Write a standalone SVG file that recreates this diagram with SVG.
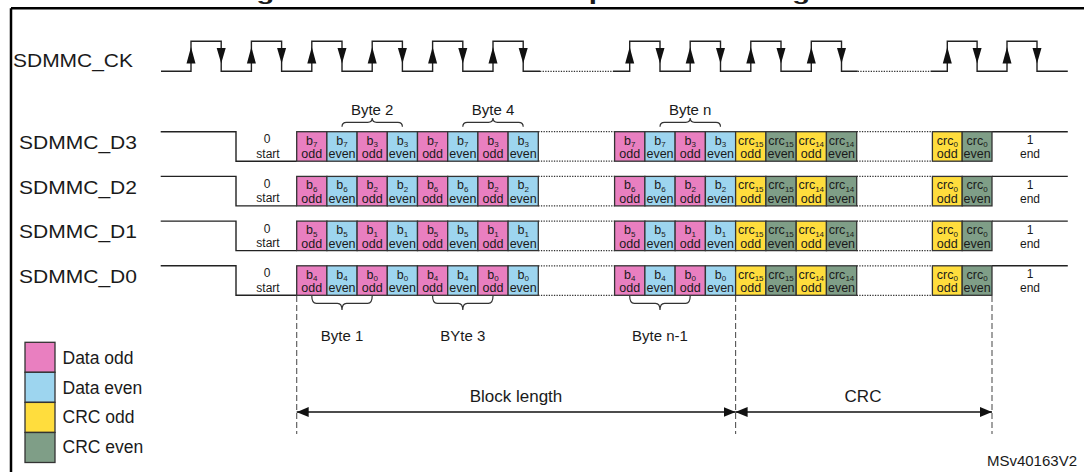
<svg xmlns="http://www.w3.org/2000/svg" xmlns:xlink="http://www.w3.org/1999/xlink" width="1084" height="472" viewBox="0 0 1084 472">
<defs>
<style>
text{font-family:"Liberation Sans",Arial,sans-serif;fill:#1a1a1a}
.po{fill:#E97FC0;stroke:#333;stroke-width:1.3}
.bl{fill:#9DD5EF;stroke:#333;stroke-width:1.3}
.ye{fill:#FFDD3D;stroke:#333;stroke-width:1.3}
.gr{fill:#7F9E87;stroke:#333;stroke-width:1.3}
.ct{font-size:12.5px;text-anchor:middle}
.s{font-size:8px}
.lbl{font-size:19px}
.bt{font-size:15px;text-anchor:middle}
.sm{font-size:12px;text-anchor:middle}
.wire{fill:none;stroke:#222;stroke-width:1.4}
.dot{fill:none;stroke:#333;stroke-width:1.2;stroke-dasharray:1.3 1.3}
.brace{fill:none;stroke:#333;stroke-width:1.2}
.dash{fill:none;stroke:#555;stroke-width:1.1;stroke-dasharray:6 3}
</style>
<polygon id="up" points="-4.5,0 4.5,0 0,-16.5" fill="#111"/>
<polygon id="dn" points="-4.5,0 4.5,0 0,15.5" fill="#111"/>
<marker id="ah" viewBox="0 0 12 10" refX="12" refY="5" markerWidth="12" markerHeight="10" markerUnits="userSpaceOnUse" orient="auto-start-reverse"><path d="M0,0 L12,5 L0,10 z" fill="#111"/></marker>
</defs>

<g id="frame">
<text x="520" y="0.3" font-size="19" font-weight="bold" text-anchor="middle" textLength="580" lengthAdjust="spacingAndGlyphs">Figure 8. DDR mode data packet clocking</text>
<path d="M11,8.3 H1084 M11,8.3 V472" fill="none" stroke="#000" stroke-width="2.5"/>
</g>

<g id="clock">
<text class="lbl" x="13" y="67" textLength="120" lengthAdjust="spacingAndGlyphs">SDMMC_CK</text>
<path class="wire" d="M161,71.3 H191 V41.3 H221.2 V71.3 H251.4 V41.3 H281.6 V71.3 H311.8 V41.3 H342 V71.3 H372.2 V41.3 H402.4 V71.3 H432.6 V41.3 H462.8 V71.3 H493 V41.3 H523.2 V71.3 H540"/>
<path class="dot" d="M540,71.3 H613"/>
<path class="wire" d="M613,71.3 H629.7 V41.3 H660 V71.3 H690.2 V41.3 H720.5 V71.3 H750.8 V41.3 H781 V71.3 H811.3 V41.3 H841.5 V71.3 H857.7"/>
<path class="dot" d="M857.7,71.3 H930.6"/>
<path class="wire" d="M930.6,71.3 H947.3 V41.3 H977.1 V71.3 H1007 V41.3 H1037 V71.3 H1067.8"/>
<use xlink:href="#up" x="191" y="63.5"/><use xlink:href="#dn" x="221.2" y="48"/>
<use xlink:href="#up" x="251.4" y="63.5"/><use xlink:href="#dn" x="281.6" y="48"/>
<use xlink:href="#up" x="311.8" y="63.5"/><use xlink:href="#dn" x="342" y="48"/>
<use xlink:href="#up" x="372.2" y="63.5"/><use xlink:href="#dn" x="402.4" y="48"/>
<use xlink:href="#up" x="432.6" y="63.5"/><use xlink:href="#dn" x="462.8" y="48"/>
<use xlink:href="#up" x="493" y="63.5"/><use xlink:href="#dn" x="523.2" y="48"/>
<use xlink:href="#up" x="629.7" y="63.5"/><use xlink:href="#dn" x="660" y="48"/>
<use xlink:href="#up" x="690.2" y="63.5"/><use xlink:href="#dn" x="720.5" y="48"/>
<use xlink:href="#up" x="750.8" y="63.5"/><use xlink:href="#dn" x="781" y="48"/>
<use xlink:href="#up" x="811.3" y="63.5"/><use xlink:href="#dn" x="841.5" y="48"/>
<use xlink:href="#up" x="947.3" y="63.5"/><use xlink:href="#dn" x="977.1" y="48"/>
<use xlink:href="#up" x="1007" y="63.5"/><use xlink:href="#dn" x="1037" y="48"/>
</g>

<g id="d3" transform="translate(0,131.7)">
<text class="lbl" x="19" y="17.3" textLength="118" lengthAdjust="spacingAndGlyphs">SDMMC_D3</text>
<path class="wire" d="M160.7,0 H236 V29.5 H296.7 M992,0 H1067.8"/>
<path class="dot" d="M538.3,0 H614.6 M538.3,29.5 H614.6 M856.7,0 H932.4 M856.7,29.5 H932.4"/>
<text class="sm" x="267" y="11.5">0</text><text class="sm" x="268" y="26">start</text>
<text class="sm" x="1030" y="12.5">1</text><text class="sm" x="1030" y="26.5">end</text>
<rect class="po" x="296.7" width="30.2" height="29.5"/><text class="ct" x="311.8" y="13">b<tspan class="s" dy="2.5">7</tspan></text><text class="ct" x="311.8" y="26.5">odd</text>
<rect class="bl" x="326.9" width="30.2" height="29.5"/><text class="ct" x="342" y="13">b<tspan class="s" dy="2.5">7</tspan></text><text class="ct" x="342" y="26.5">even</text>
<rect class="po" x="357.1" width="30.2" height="29.5"/><text class="ct" x="372.2" y="13">b<tspan class="s" dy="2.5">3</tspan></text><text class="ct" x="372.2" y="26.5">odd</text>
<rect class="bl" x="387.3" width="30.2" height="29.5"/><text class="ct" x="402.4" y="13">b<tspan class="s" dy="2.5">3</tspan></text><text class="ct" x="402.4" y="26.5">even</text>
<rect class="po" x="417.5" width="30.2" height="29.5"/><text class="ct" x="432.6" y="13">b<tspan class="s" dy="2.5">7</tspan></text><text class="ct" x="432.6" y="26.5">odd</text>
<rect class="bl" x="447.7" width="30.2" height="29.5"/><text class="ct" x="462.8" y="13">b<tspan class="s" dy="2.5">7</tspan></text><text class="ct" x="462.8" y="26.5">even</text>
<rect class="po" x="477.9" width="30.2" height="29.5"/><text class="ct" x="493" y="13">b<tspan class="s" dy="2.5">3</tspan></text><text class="ct" x="493" y="26.5">odd</text>
<rect class="bl" x="508.1" width="30.2" height="29.5"/><text class="ct" x="523.2" y="13">b<tspan class="s" dy="2.5">3</tspan></text><text class="ct" x="523.2" y="26.5">even</text>
<rect class="po" x="614.6" width="30.3" height="29.5"/><text class="ct" x="629.7" y="13">b<tspan class="s" dy="2.5">7</tspan></text><text class="ct" x="629.7" y="26.5">odd</text>
<rect class="bl" x="644.9" width="30.3" height="29.5"/><text class="ct" x="660" y="13">b<tspan class="s" dy="2.5">7</tspan></text><text class="ct" x="660" y="26.5">even</text>
<rect class="po" x="675.1" width="30.3" height="29.5"/><text class="ct" x="690.2" y="13">b<tspan class="s" dy="2.5">3</tspan></text><text class="ct" x="690.2" y="26.5">odd</text>
<rect class="bl" x="705.4" width="30.3" height="29.5"/><text class="ct" x="720.5" y="13">b<tspan class="s" dy="2.5">3</tspan></text><text class="ct" x="720.5" y="26.5">even</text>
<rect class="ye" x="735.6" width="30.3" height="29.5"/><text class="ct" x="750.8" y="13">crc<tspan class="s" dy="2.5">15</tspan></text><text class="ct" x="750.8" y="26.5">odd</text>
<rect class="gr" x="765.9" width="30.3" height="29.5"/><text class="ct" x="781" y="13">crc<tspan class="s" dy="2.5">15</tspan></text><text class="ct" x="781" y="26.5">even</text>
<rect class="ye" x="796.2" width="30.3" height="29.5"/><text class="ct" x="811.3" y="13">crc<tspan class="s" dy="2.5">14</tspan></text><text class="ct" x="811.3" y="26.5">odd</text>
<rect class="gr" x="826.4" width="30.3" height="29.5"/><text class="ct" x="841.5" y="13">crc<tspan class="s" dy="2.5">14</tspan></text><text class="ct" x="841.5" y="26.5">even</text>
<rect class="ye" x="932.4" width="29.8" height="29.5"/><text class="ct" x="947.3" y="13">crc<tspan class="s" dy="2.5">0</tspan></text><text class="ct" x="947.3" y="26.5">odd</text>
<rect class="gr" x="962.2" width="29.8" height="29.5"/><text class="ct" x="977.1" y="13">crc<tspan class="s" dy="2.5">0</tspan></text><text class="ct" x="977.1" y="26.5">even</text>
</g>

<g id="d2" transform="translate(0,176.4)">
<text class="lbl" x="19" y="17.3" textLength="118" lengthAdjust="spacingAndGlyphs">SDMMC_D2</text>
<path class="wire" d="M160.7,0 H236 V29.5 H296.7 M992,0 H1067.8"/>
<path class="dot" d="M538.3,0 H614.6 M538.3,29.5 H614.6 M856.7,0 H932.4 M856.7,29.5 H932.4"/>
<text class="sm" x="267" y="11.5">0</text><text class="sm" x="268" y="26">start</text>
<text class="sm" x="1030" y="12.5">1</text><text class="sm" x="1030" y="26.5">end</text>
<rect class="po" x="296.7" width="30.2" height="29.5"/><text class="ct" x="311.8" y="13">b<tspan class="s" dy="2.5">6</tspan></text><text class="ct" x="311.8" y="26.5">odd</text>
<rect class="bl" x="326.9" width="30.2" height="29.5"/><text class="ct" x="342" y="13">b<tspan class="s" dy="2.5">6</tspan></text><text class="ct" x="342" y="26.5">even</text>
<rect class="po" x="357.1" width="30.2" height="29.5"/><text class="ct" x="372.2" y="13">b<tspan class="s" dy="2.5">2</tspan></text><text class="ct" x="372.2" y="26.5">odd</text>
<rect class="bl" x="387.3" width="30.2" height="29.5"/><text class="ct" x="402.4" y="13">b<tspan class="s" dy="2.5">2</tspan></text><text class="ct" x="402.4" y="26.5">even</text>
<rect class="po" x="417.5" width="30.2" height="29.5"/><text class="ct" x="432.6" y="13">b<tspan class="s" dy="2.5">6</tspan></text><text class="ct" x="432.6" y="26.5">odd</text>
<rect class="bl" x="447.7" width="30.2" height="29.5"/><text class="ct" x="462.8" y="13">b<tspan class="s" dy="2.5">6</tspan></text><text class="ct" x="462.8" y="26.5">even</text>
<rect class="po" x="477.9" width="30.2" height="29.5"/><text class="ct" x="493" y="13">b<tspan class="s" dy="2.5">2</tspan></text><text class="ct" x="493" y="26.5">odd</text>
<rect class="bl" x="508.1" width="30.2" height="29.5"/><text class="ct" x="523.2" y="13">b<tspan class="s" dy="2.5">2</tspan></text><text class="ct" x="523.2" y="26.5">even</text>
<rect class="po" x="614.6" width="30.3" height="29.5"/><text class="ct" x="629.7" y="13">b<tspan class="s" dy="2.5">6</tspan></text><text class="ct" x="629.7" y="26.5">odd</text>
<rect class="bl" x="644.9" width="30.3" height="29.5"/><text class="ct" x="660" y="13">b<tspan class="s" dy="2.5">6</tspan></text><text class="ct" x="660" y="26.5">even</text>
<rect class="po" x="675.1" width="30.3" height="29.5"/><text class="ct" x="690.2" y="13">b<tspan class="s" dy="2.5">2</tspan></text><text class="ct" x="690.2" y="26.5">odd</text>
<rect class="bl" x="705.4" width="30.3" height="29.5"/><text class="ct" x="720.5" y="13">b<tspan class="s" dy="2.5">2</tspan></text><text class="ct" x="720.5" y="26.5">even</text>
<rect class="ye" x="735.6" width="30.3" height="29.5"/><text class="ct" x="750.8" y="13">crc<tspan class="s" dy="2.5">15</tspan></text><text class="ct" x="750.8" y="26.5">odd</text>
<rect class="gr" x="765.9" width="30.3" height="29.5"/><text class="ct" x="781" y="13">crc<tspan class="s" dy="2.5">15</tspan></text><text class="ct" x="781" y="26.5">even</text>
<rect class="ye" x="796.2" width="30.3" height="29.5"/><text class="ct" x="811.3" y="13">crc<tspan class="s" dy="2.5">14</tspan></text><text class="ct" x="811.3" y="26.5">odd</text>
<rect class="gr" x="826.4" width="30.3" height="29.5"/><text class="ct" x="841.5" y="13">crc<tspan class="s" dy="2.5">14</tspan></text><text class="ct" x="841.5" y="26.5">even</text>
<rect class="ye" x="932.4" width="29.8" height="29.5"/><text class="ct" x="947.3" y="13">crc<tspan class="s" dy="2.5">0</tspan></text><text class="ct" x="947.3" y="26.5">odd</text>
<rect class="gr" x="962.2" width="29.8" height="29.5"/><text class="ct" x="977.1" y="13">crc<tspan class="s" dy="2.5">0</tspan></text><text class="ct" x="977.1" y="26.5">even</text>
</g>

<g id="d1" transform="translate(0,221.1)">
<text class="lbl" x="19" y="17.3" textLength="118" lengthAdjust="spacingAndGlyphs">SDMMC_D1</text>
<path class="wire" d="M160.7,0 H236 V29.5 H296.7 M992,0 H1067.8"/>
<path class="dot" d="M538.3,0 H614.6 M538.3,29.5 H614.6 M856.7,0 H932.4 M856.7,29.5 H932.4"/>
<text class="sm" x="267" y="11.5">0</text><text class="sm" x="268" y="26">start</text>
<text class="sm" x="1030" y="12.5">1</text><text class="sm" x="1030" y="26.5">end</text>
<rect class="po" x="296.7" width="30.2" height="29.5"/><text class="ct" x="311.8" y="13">b<tspan class="s" dy="2.5">5</tspan></text><text class="ct" x="311.8" y="26.5">odd</text>
<rect class="bl" x="326.9" width="30.2" height="29.5"/><text class="ct" x="342" y="13">b<tspan class="s" dy="2.5">5</tspan></text><text class="ct" x="342" y="26.5">even</text>
<rect class="po" x="357.1" width="30.2" height="29.5"/><text class="ct" x="372.2" y="13">b<tspan class="s" dy="2.5">1</tspan></text><text class="ct" x="372.2" y="26.5">odd</text>
<rect class="bl" x="387.3" width="30.2" height="29.5"/><text class="ct" x="402.4" y="13">b<tspan class="s" dy="2.5">1</tspan></text><text class="ct" x="402.4" y="26.5">even</text>
<rect class="po" x="417.5" width="30.2" height="29.5"/><text class="ct" x="432.6" y="13">b<tspan class="s" dy="2.5">5</tspan></text><text class="ct" x="432.6" y="26.5">odd</text>
<rect class="bl" x="447.7" width="30.2" height="29.5"/><text class="ct" x="462.8" y="13">b<tspan class="s" dy="2.5">5</tspan></text><text class="ct" x="462.8" y="26.5">even</text>
<rect class="po" x="477.9" width="30.2" height="29.5"/><text class="ct" x="493" y="13">b<tspan class="s" dy="2.5">1</tspan></text><text class="ct" x="493" y="26.5">odd</text>
<rect class="bl" x="508.1" width="30.2" height="29.5"/><text class="ct" x="523.2" y="13">b<tspan class="s" dy="2.5">1</tspan></text><text class="ct" x="523.2" y="26.5">even</text>
<rect class="po" x="614.6" width="30.3" height="29.5"/><text class="ct" x="629.7" y="13">b<tspan class="s" dy="2.5">5</tspan></text><text class="ct" x="629.7" y="26.5">odd</text>
<rect class="bl" x="644.9" width="30.3" height="29.5"/><text class="ct" x="660" y="13">b<tspan class="s" dy="2.5">5</tspan></text><text class="ct" x="660" y="26.5">even</text>
<rect class="po" x="675.1" width="30.3" height="29.5"/><text class="ct" x="690.2" y="13">b<tspan class="s" dy="2.5">1</tspan></text><text class="ct" x="690.2" y="26.5">odd</text>
<rect class="bl" x="705.4" width="30.3" height="29.5"/><text class="ct" x="720.5" y="13">b<tspan class="s" dy="2.5">1</tspan></text><text class="ct" x="720.5" y="26.5">even</text>
<rect class="ye" x="735.6" width="30.3" height="29.5"/><text class="ct" x="750.8" y="13">crc<tspan class="s" dy="2.5">15</tspan></text><text class="ct" x="750.8" y="26.5">odd</text>
<rect class="gr" x="765.9" width="30.3" height="29.5"/><text class="ct" x="781" y="13">crc<tspan class="s" dy="2.5">15</tspan></text><text class="ct" x="781" y="26.5">even</text>
<rect class="ye" x="796.2" width="30.3" height="29.5"/><text class="ct" x="811.3" y="13">crc<tspan class="s" dy="2.5">14</tspan></text><text class="ct" x="811.3" y="26.5">odd</text>
<rect class="gr" x="826.4" width="30.3" height="29.5"/><text class="ct" x="841.5" y="13">crc<tspan class="s" dy="2.5">14</tspan></text><text class="ct" x="841.5" y="26.5">even</text>
<rect class="ye" x="932.4" width="29.8" height="29.5"/><text class="ct" x="947.3" y="13">crc<tspan class="s" dy="2.5">0</tspan></text><text class="ct" x="947.3" y="26.5">odd</text>
<rect class="gr" x="962.2" width="29.8" height="29.5"/><text class="ct" x="977.1" y="13">crc<tspan class="s" dy="2.5">0</tspan></text><text class="ct" x="977.1" y="26.5">even</text>
</g>

<g id="d0" transform="translate(0,265.8)">
<text class="lbl" x="19" y="17.3" textLength="118" lengthAdjust="spacingAndGlyphs">SDMMC_D0</text>
<path class="wire" d="M160.7,0 H236 V29.5 H296.7 M992,0 H1067.8"/>
<path class="dot" d="M538.3,0 H614.6 M538.3,29.5 H614.6 M856.7,0 H932.4 M856.7,29.5 H932.4"/>
<text class="sm" x="267" y="11.5">0</text><text class="sm" x="268" y="26">start</text>
<text class="sm" x="1030" y="12.5">1</text><text class="sm" x="1030" y="26.5">end</text>
<rect class="po" x="296.7" width="30.2" height="29.5"/><text class="ct" x="311.8" y="13">b<tspan class="s" dy="2.5">4</tspan></text><text class="ct" x="311.8" y="26.5">odd</text>
<rect class="bl" x="326.9" width="30.2" height="29.5"/><text class="ct" x="342" y="13">b<tspan class="s" dy="2.5">4</tspan></text><text class="ct" x="342" y="26.5">even</text>
<rect class="po" x="357.1" width="30.2" height="29.5"/><text class="ct" x="372.2" y="13">b<tspan class="s" dy="2.5">0</tspan></text><text class="ct" x="372.2" y="26.5">odd</text>
<rect class="bl" x="387.3" width="30.2" height="29.5"/><text class="ct" x="402.4" y="13">b<tspan class="s" dy="2.5">0</tspan></text><text class="ct" x="402.4" y="26.5">even</text>
<rect class="po" x="417.5" width="30.2" height="29.5"/><text class="ct" x="432.6" y="13">b<tspan class="s" dy="2.5">4</tspan></text><text class="ct" x="432.6" y="26.5">odd</text>
<rect class="bl" x="447.7" width="30.2" height="29.5"/><text class="ct" x="462.8" y="13">b<tspan class="s" dy="2.5">4</tspan></text><text class="ct" x="462.8" y="26.5">even</text>
<rect class="po" x="477.9" width="30.2" height="29.5"/><text class="ct" x="493" y="13">b<tspan class="s" dy="2.5">0</tspan></text><text class="ct" x="493" y="26.5">odd</text>
<rect class="bl" x="508.1" width="30.2" height="29.5"/><text class="ct" x="523.2" y="13">b<tspan class="s" dy="2.5">0</tspan></text><text class="ct" x="523.2" y="26.5">even</text>
<rect class="po" x="614.6" width="30.3" height="29.5"/><text class="ct" x="629.7" y="13">b<tspan class="s" dy="2.5">4</tspan></text><text class="ct" x="629.7" y="26.5">odd</text>
<rect class="bl" x="644.9" width="30.3" height="29.5"/><text class="ct" x="660" y="13">b<tspan class="s" dy="2.5">4</tspan></text><text class="ct" x="660" y="26.5">even</text>
<rect class="po" x="675.1" width="30.3" height="29.5"/><text class="ct" x="690.2" y="13">b<tspan class="s" dy="2.5">0</tspan></text><text class="ct" x="690.2" y="26.5">odd</text>
<rect class="bl" x="705.4" width="30.3" height="29.5"/><text class="ct" x="720.5" y="13">b<tspan class="s" dy="2.5">0</tspan></text><text class="ct" x="720.5" y="26.5">even</text>
<rect class="ye" x="735.6" width="30.3" height="29.5"/><text class="ct" x="750.8" y="13">crc<tspan class="s" dy="2.5">15</tspan></text><text class="ct" x="750.8" y="26.5">odd</text>
<rect class="gr" x="765.9" width="30.3" height="29.5"/><text class="ct" x="781" y="13">crc<tspan class="s" dy="2.5">15</tspan></text><text class="ct" x="781" y="26.5">even</text>
<rect class="ye" x="796.2" width="30.3" height="29.5"/><text class="ct" x="811.3" y="13">crc<tspan class="s" dy="2.5">14</tspan></text><text class="ct" x="811.3" y="26.5">odd</text>
<rect class="gr" x="826.4" width="30.3" height="29.5"/><text class="ct" x="841.5" y="13">crc<tspan class="s" dy="2.5">14</tspan></text><text class="ct" x="841.5" y="26.5">even</text>
<rect class="ye" x="932.4" width="29.8" height="29.5"/><text class="ct" x="947.3" y="13">crc<tspan class="s" dy="2.5">0</tspan></text><text class="ct" x="947.3" y="26.5">odd</text>
<rect class="gr" x="962.2" width="29.8" height="29.5"/><text class="ct" x="977.1" y="13">crc<tspan class="s" dy="2.5">0</tspan></text><text class="ct" x="977.1" y="26.5">even</text>
</g>

<g id="bytes">
<text class="bt" x="372.2" y="115">Byte 2</text>
<text class="bt" x="493" y="115">Byte 4</text>
<text class="bt" x="690.2" y="115">Byte n</text>
<path class="brace" d="M342,126.7 Q342,122.3 346.5,122.3 H367.7 Q372.2,122.3 372.2,118 Q372.2,122.3 376.7,122.3 H397.9 Q402.4,122.3 402.4,126.7"/>
<path class="brace" d="M462.8,126.7 Q462.8,122.3 467.3,122.3 H488.5 Q493,122.3 493,118 Q493,122.3 497.5,122.3 H518.7 Q523.2,122.3 523.2,126.7"/>
<path class="brace" d="M660,126.7 Q660,122.3 664.5,122.3 H685.7 Q690.2,122.3 690.2,118 Q690.2,122.3 694.7,122.3 H716 Q720.5,122.3 720.5,126.7"/>
<path class="brace" d="M311.8,296 Q311.8,303.3 316.3,303.3 H337.5 Q342,303.3 342,310 Q342,303.3 346.5,303.3 H367.7 Q372.2,303.3 372.2,296"/>
<path class="brace" d="M432.6,296 Q432.6,303.3 437.1,303.3 H458.3 Q462.8,303.3 462.8,310 Q462.8,303.3 467.3,303.3 H488.5 Q493,303.3 493,296"/>
<path class="brace" d="M629.7,296 Q629.7,303.3 634.2,303.3 H655.5 Q660,303.3 660,310 Q660,303.3 664.5,303.3 H685.7 Q690.2,303.3 690.2,296"/>
<text class="bt" x="342" y="340.7">Byte 1</text>
<text class="bt" x="462.8" y="340.7">BYte 3</text>
<text class="bt" x="660" y="340.7">Byte n-1</text>
</g>

<g id="connectors">
<path class="dash" d="M296.7,296 V434 M735.6,296 V434 M992,296 V434"/>
<path d="M296.7,412 H735.6" fill="none" stroke="#111" stroke-width="1.4" marker-start="url(#ah)" marker-end="url(#ah)"/>
<path d="M735.6,412 H992" fill="none" stroke="#111" stroke-width="1.4" marker-start="url(#ah)" marker-end="url(#ah)"/>
<text x="516" y="402" font-size="17" text-anchor="middle">Block length</text>
<text x="863" y="402" font-size="17" text-anchor="middle">CRC</text>
</g>

<g id="legend">
<rect class="po" x="25" y="342.3" width="30" height="30"/>
<rect class="bl" x="25" y="372.3" width="30" height="30"/>
<rect class="ye" x="25" y="402.4" width="30" height="30"/>
<rect class="gr" x="25" y="432.5" width="30" height="30"/>
<text x="62.5" y="363.5" font-size="17.5">Data odd</text>
<text x="62.5" y="393.5" font-size="17.5">Data even</text>
<text x="62.5" y="423" font-size="17.5">CRC odd</text>
<text x="62.5" y="453" font-size="17.5">CRC even</text>
</g>

<text x="1077" y="466" font-size="15" text-anchor="end">MSv40163V2</text>
</svg>
